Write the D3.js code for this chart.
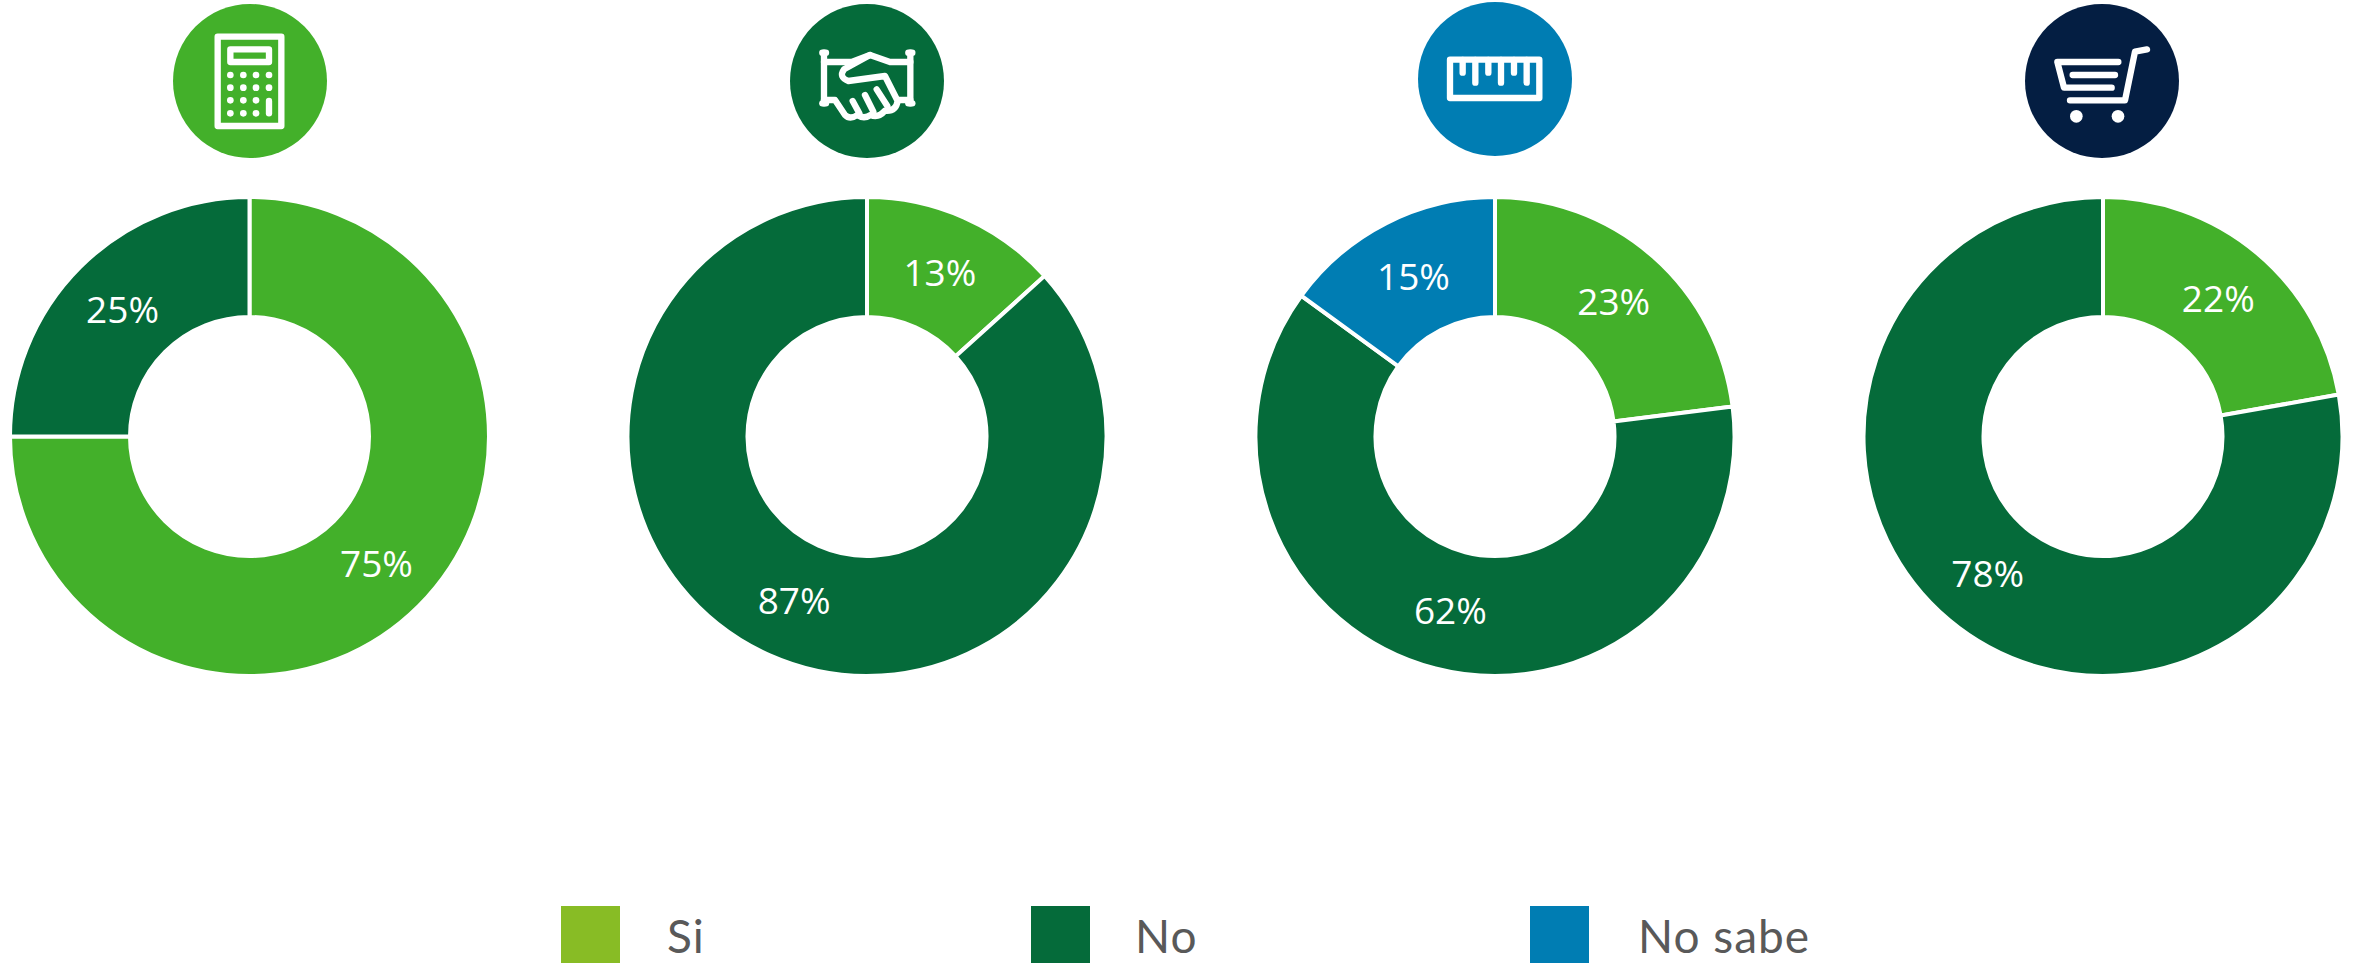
<!DOCTYPE html>
<html><head><meta charset="utf-8">
<script src="https://cdn.jsdelivr.net/npm/d3@7"></script>
<style>html,body{margin:0;padding:0;background:#fff;overflow:hidden}svg{display:block}text{font-family:"Open Sans",sans-serif}</style>
</head><body><svg id="c" width="2354" height="963"></svg>
<script>
const answers = ["Si","No","No sabe"];
const calculadora = [75,25,0];
const negociacion = [13.3,86.7,0];
const medicion = [23,62,15];
const compras = [22.2,77.8,0];
const charts = [calculadora,negociacion,medicion,compras];
const centers = [249.5,867,1495,2103];
const sliceColors = ["#43B02A","#056B3A","#007DB3"];
const legendColors = ["#88BC25","#056B3A","#007DB3"];
const iconColors = ["#43B02A","#056B3A","#007DB3","#041E42"];
const iconCircles = [[250,81],[867,81],[1495,79],[2102,81]];
const legendSwatchX = [561,1031,1530];
const legendTextX = [667,1135,1638];

const svg = d3.select("#c");
const pie = d3.pie().sort(null).value(d=>d);
const arc = d3.arc().innerRadius(119.5).outerRadius(239.5);

charts.forEach((vals,i)=>{
  const g = svg.append("g").attr("transform",`translate(${centers[i]},436.5)`);
  const arcs = pie(vals).map((d,k)=>({...d,k})).filter(d=>d.value>0);
  g.selectAll("path").data(arcs).join("path")
    .attr("d",arc).attr("fill",d=>sliceColors[d.k]).attr("stroke","#fff").attr("stroke-width",4);
  g.selectAll("text").data(arcs).join("text")
    .attr("transform",d=>`translate(${arc.centroid(d)})`)
    .attr("text-anchor","middle").attr("dy","0.36em")
    .attr("fill","#fff").attr("font-size",37).text(d=>Math.round(d.value)+"%");
});

// icons, drawn in a local 600-unit wide frame
const iconFrames = [[150,0],[770,0],[1395,0],[2000,0]];
iconCircles.forEach((c,i)=>{
  svg.append("circle").attr("cx",c[0]).attr("cy",c[1]).attr("r",77).attr("fill",iconColors[i]);
});
function icon(i){
  return svg.append("g").attr("transform",`translate(${iconFrames[i][0]},${iconFrames[i][1]}) scale(${1/3})`)
    .attr("fill","none").attr("stroke","#fff").attr("stroke-width",19)
    .attr("stroke-linecap","round").attr("stroke-linejoin","round");
}
// calculator
const a = icon(0);
a.append("rect").attr("x",203).attr("y",110).attr("width",191).attr("height",268);
a.append("rect").attr("x",241).attr("y",148).attr("width",116).attr("height",38);
[241,280,318,357].forEach((x,ci)=>[225,263,301,340].forEach((y,ri)=>{
  if(ci===3&&ri>=2) return;
  a.append("circle").attr("cx",x).attr("cy",y).attr("r",10).attr("fill","#fff").attr("stroke","none");
}));
a.append("line").attr("x1",357).attr("x2",357).attr("y1",303).attr("y2",340);
// handshake
const b = icon(1);
["M157 158H168","M162 158V310","M157 310H168","M162 186H245L300 165L360 186H421","M415 158H427","M421 158V310","M415 310H427","M385 300H421",
 "M162 300H195L225 345Q240 360 262 345Q282 358 302 345Q325 355 345 332Q378 335 383 303L345 228L235 243Q205 232 222 208L300 165",
 "M248 303L268 340","M285 285L310 335","M320 268L352 318"].forEach(p=>b.append("path").attr("d",p));
// ruler
const r = icon(2);
r.append("rect").attr("x",165).attr("y",179).attr("width",268).attr("height",115);
[[203,218],[241,248],[280,218],[318,248],[357,218],[395,248]].forEach(t=>
  r.append("line").attr("x1",t[0]).attr("x2",t[0]).attr("y1",180).attr("y2",t[1]));
// cart
const s = icon(3);
["M355 186H172L192 263H335","M218 225H345","M210 301H375L405 155L441 148"].forEach(p=>s.append("path").attr("d",p));
[[229,349],[354,349]].forEach(w=>s.append("circle").attr("cx",w[0]).attr("cy",w[1]).attr("r",19).attr("fill","#fff").attr("stroke","none"));

// legend
answers.forEach((t,i)=>{
  svg.append("rect").attr("x",legendSwatchX[i]).attr("y",906).attr("width",59).attr("height",57).attr("fill",legendColors[i]);
  svg.append("text").attr("x",legendTextX[i]).attr("y",952.5).attr("font-size",46).attr("letter-spacing",1)
    .attr("fill","#595959").style("font-family","Lato").text(t);
});
</script></body></html>
